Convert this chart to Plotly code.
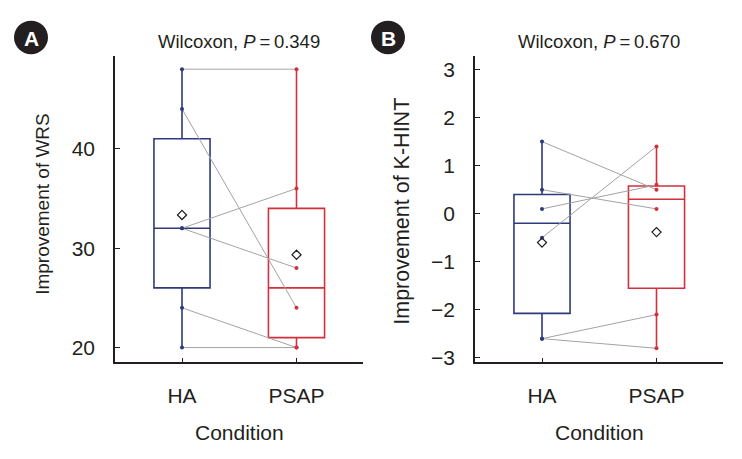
import numpy as np
import plotly.graph_objects as go

# categories and paired observations (index i in HA pairs with index i in PSAP)
conditions = ["HA", "PSAP"]
wrs_ha = [48, 44, 32, 32, 24, 20]
wrs_psap = [48, 24, 36, 28, 20, 20]
hint_ha = [1.5, 0.5, 0.1, -0.5, -2.6, -2.6]
hint_psap = [0.5, 0.1, 0.6, 1.4, -2.1, -2.8]

wrs_ticks = [20, 30, 40]
hint_ticks = [-3, -2, -1, 0, 1, 2, 3]
titles = ["Wilcoxon, <i>P</i>\u2009=\u20090.349", "Wilcoxon, <i>P</i>\u2009=\u20090.670"]
ytitles = ["Improvement of WRS", "Improvement of K-HINT"]
panel_tags = ["A", "B"]

W, H = 742, 459
FONT = "Arial, Liberation Sans, sans-serif"
INK = "#231f20"
NAVY = "#2e3a7c"
RED = "#d42f3b"
GRAY = "#a3a3a3"

# panel geometry in pixels
panels = [
    dict(x0=115, x1=363, xc=182, ax="x", ay="y"),
    dict(x0=475, x1=723, xc=542, ax="x2", ay="y2"),
]
TOP, BOTTOM = 57, 368
SPACING = 114.5


def px_x(p):
    return p / W


def px_y(p):
    return 1 - p / H


fig = go.Figure()


def add_panel(ha, psap, ax, ay):
    groups = [(0, ha, NAVY), (1, psap, RED)]
    for pos, vals, col in groups:
        v = np.asarray(vals, dtype=float)
        q1, med, q3 = np.percentile(v, [25, 50, 75])
        fig.add_trace(go.Box(
            x=[pos], q1=[q1], median=[med], q3=[q3],
            lowerfence=[v.min()], upperfence=[v.max()],
            width=0.49, whiskerwidth=0,
            line=dict(color=col, width=1.6),
            fillcolor="white", boxpoints=False,
            xaxis=ax, yaxis=ay, showlegend=False,
        ))
    # connecting lines between paired observations
    lx, ly = [], []
    for a, b in zip(ha, psap):
        lx += [0, 1, None]
        ly += [a, b, None]
    fig.add_trace(go.Scatter(
        x=lx, y=ly, mode="lines", line=dict(color=GRAY, width=1),
        xaxis=ax, yaxis=ay, showlegend=False, hoverinfo="skip",
    ))
    for pos, vals, col in groups:
        fig.add_trace(go.Scatter(
            x=[pos] * len(vals), y=vals, mode="markers",
            marker=dict(color=col, size=4),
            xaxis=ax, yaxis=ay, showlegend=False,
        ))
        fig.add_trace(go.Scatter(
            x=[pos], y=[float(np.mean(vals))], mode="markers",
            marker=dict(symbol="diamond-open", color=INK, size=7,
                        line=dict(width=1.2)),
            xaxis=ax, yaxis=ay, showlegend=False,
        ))


add_panel(wrs_ha, wrs_psap, "x", "y")
add_panel(hint_ha, hint_psap, "x2", "y2")

axis_common = dict(
    showline=True, linecolor=INK, linewidth=1.5,
    ticks="inside", ticklen=5, tickwidth=1.3, tickcolor=INK,
    showgrid=False, zeroline=False,
    tickfont=dict(family=FONT, size=21, color=INK),
)

ydomain = [px_y(BOTTOM), px_y(TOP)]
for i, p in enumerate(panels):
    lo = (p["x0"] - p["xc"]) / SPACING
    hi = (p["x1"] - p["xc"]) / SPACING
    suffix = "" if i == 0 else "2"
    fig.layout["xaxis" + suffix] = dict(
        axis_common, domain=[px_x(p["x0"]), px_x(p["x1"])],
        range=[lo, hi], tickvals=[0, 1], ticktext=conditions,
        anchor="y" + suffix, ticklabelstandoff=14,
    )

fig.layout["yaxis"] = dict(
    axis_common, domain=ydomain, range=[18.51, 49.31],
    tickvals=wrs_ticks, anchor="x", ticklabelstandoff=14,
)
fig.layout["yaxis2"] = dict(
    axis_common, domain=ydomain, range=[-3.094, 3.279],
    tickvals=hint_ticks, anchor="x2", ticklabelstandoff=14,
)

annotations = []
shapes = []
tag_x = [31, 388]
ytitle_x = [43, 402]
ytitle_y = [207, 215]
ytitle_size = [19, 21.5]
for i, p in enumerate(panels):
    xc = (p["x0"] + p["x1"]) / 2
    annotations.append(dict(
        text=titles[i], x=px_x(xc), y=px_y(42), xref="paper", yref="paper",
        showarrow=False, xanchor="center", yanchor="middle",
        font=dict(family=FONT, size=18.5, color=INK),
    ))
    annotations.append(dict(
        text="Condition", x=px_x(xc), y=px_y(439), xref="paper", yref="paper",
        showarrow=False, xanchor="center", yanchor="middle",
        font=dict(family=FONT, size=21, color=INK),
    ))
    annotations.append(dict(
        text=ytitles[i], x=px_x(ytitle_x[i]), y=px_y(ytitle_y[i]),
        xref="paper", yref="paper", textangle=-90,
        showarrow=False, xanchor="center", yanchor="middle",
        font=dict(family=FONT, size=ytitle_size[i], color=INK),
    ))
    cx, cy, r = tag_x[i], 38, 17
    shapes.append(dict(
        type="circle", xref="paper", yref="paper",
        x0=px_x(cx - r), x1=px_x(cx + r), y0=px_y(cy + r), y1=px_y(cy - r),
        fillcolor=INK, line=dict(width=0),
    ))
    annotations.append(dict(
        text="<b>%s</b>" % panel_tags[i], x=px_x(cx), y=px_y(cy + 1),
        xref="paper", yref="paper", showarrow=False,
        xanchor="center", yanchor="middle",
        font=dict(family=FONT, size=21, color="white"),
    ))

fig.update_layout(
    width=W, height=H, autosize=False,
    margin=dict(l=0, r=0, t=0, b=0),
    paper_bgcolor="white", plot_bgcolor="white",
    annotations=annotations, shapes=shapes,
    showlegend=False,
)

# drop the default page margin so the figure sits at the window origin
fig.write_html(
    "out.html",
    config={"displayModeBar": False},
    post_script="document.body.style.margin='0';",
)
